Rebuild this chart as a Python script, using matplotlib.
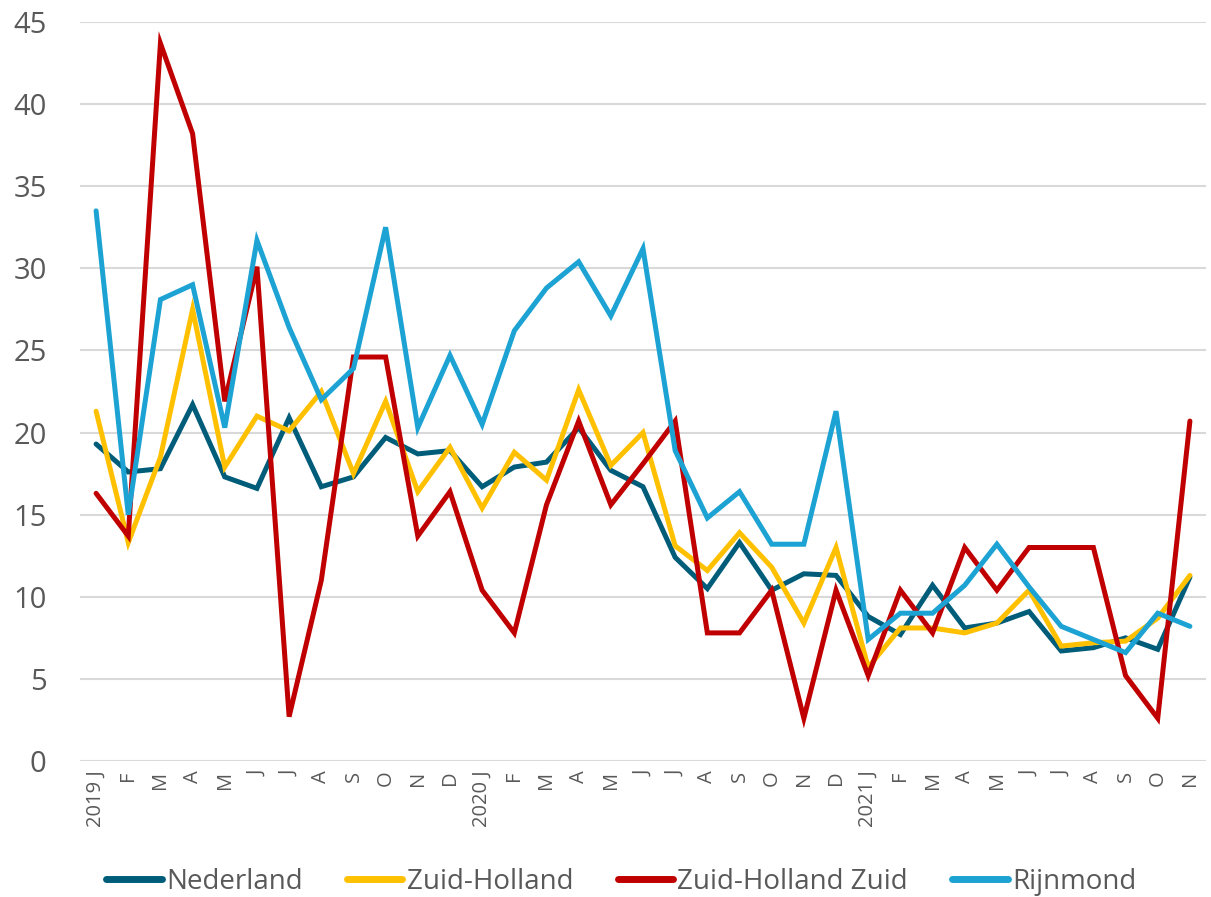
import numpy as np
import matplotlib.pyplot as plt

plt.rcParams['font.family'] = ['Open Sans', 'DejaVu Sans']

# maanden 2019 J .. 2021 N
maanden = ['2019 J', 'F', 'M', 'A', 'M', 'J', 'J', 'A', 'S', 'O', 'N', 'D',
           '2020 J', 'F', 'M', 'A', 'M', 'J', 'J', 'A', 'S', 'O', 'N', 'D',
           '2021 J', 'F', 'M', 'A', 'M', 'J', 'J', 'A', 'S', 'O', 'N']

nederland = [19.3, 17.6, 17.8, 21.7, 17.3, 16.6, 20.9, 16.7, 17.3, 19.7, 18.7, 18.9,
             16.7, 17.9, 18.2, 20.3, 17.7, 16.7, 12.4, 10.5, 13.3, 10.4, 11.4, 11.3,
             8.8, 7.7, 10.7, 8.1, 8.4, 9.1, 6.7, 6.9, 7.5, 6.8, 11.2]
zuid_holland = [21.3, 13.3, 18.5, 27.5, 17.9, 21.0, 20.1, 22.5, 17.5, 21.9, 16.4, 19.1,
                15.4, 18.8, 17.1, 22.6, 18.0, 20.0, 13.1, 11.6, 13.9, 11.8, 8.4, 13.0,
                5.7, 8.1, 8.1, 7.8, 8.4, 10.4, 7.0, 7.2, 7.3, 8.7, 11.3]
zh_zuid = [16.3, 13.7, 43.7, 38.2, 21.9, 30.1, 2.7, 11.0, 24.6, 24.6, 13.7, 16.4,
           10.4, 7.8, 15.6, 20.7, 15.6, 18.1, 20.7, 7.8, 7.8, 10.4, 2.6, 10.4,
           5.2, 10.4, 7.8, 13.0, 10.4, 13.0, 13.0, 13.0, 5.2, 2.6, 20.7]
rijnmond = [33.5, 15.0, 28.1, 29.0, 20.3, 31.7, 26.4, 22.0, 23.9, 32.5, 20.3, 24.7,
            20.5, 26.2, 28.8, 30.4, 27.1, 31.2, 18.9, 14.8, 16.4, 13.2, 13.2, 21.3,
            7.4, 9.0, 9.0, 10.7, 13.2, 10.6, 8.2, 7.4, 6.6, 9.0, 8.2]

reeksen = [('Nederland', nederland, '#005D7A'),
           ('Zuid-Holland', zuid_holland, '#FFC000'),
           ('Zuid-Holland Zuid', zh_zuid, '#C00000'),
           ('Rijnmond', rijnmond, '#1CA3D3')]

fig = plt.figure(figsize=(12.11, 8.97), dpi=100)
ax = fig.add_axes([80/1211, 136/897, 1126/1211, 739/897])

x = np.arange(len(maanden))
for naam, waarden, kleur in reeksen:
    ax.plot(x, waarden, color=kleur, lw=3.6, label=naam,
            solid_joinstyle='miter', solid_capstyle='round')

ax.set_xlim(-0.5, len(maanden) - 0.5)
ax.set_ylim(0, 45)
ax.set_yticks(np.arange(0, 46, 5))
ax.set_xticks(x)
ax.set_xticklabels(maanden, rotation=90, fontsize=14.5, color='#595959')
ax.tick_params(axis='y', labelsize=21, labelcolor='#595959', length=0, pad=24)
ax.tick_params(axis='x', length=0, pad=7)

ax.grid(axis='y', color='#D9D9D9', lw=1.5)
ax.set_axisbelow(True)
for s in ax.spines.values():
    s.set_visible(False)

leg = fig.legend(loc='center', bbox_to_anchor=(0.513, 15/897), ncol=4,
                 frameon=False, fontsize=20, labelcolor='#595959',
                 handlelength=2.0, handletextpad=0.15, columnspacing=1.6)
for h in leg.get_lines():
    h.set_linewidth(5)

fig.savefig('out.png', dpi=100)
